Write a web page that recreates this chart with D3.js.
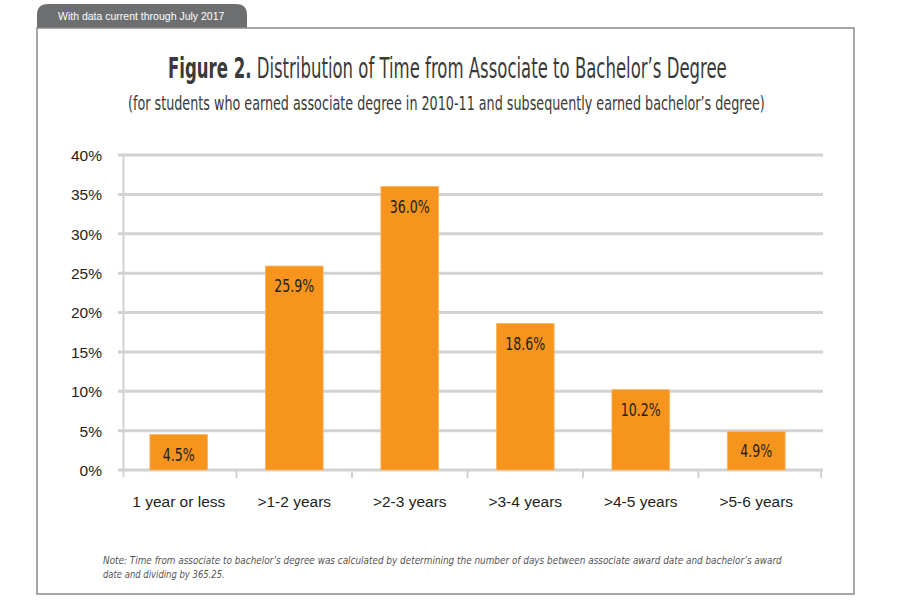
<!DOCTYPE html>
<html>
<head>
<meta charset="utf-8">
<script src="https://cdn.jsdelivr.net/npm/d3@7"></script>
<style>
  body { margin: 0; background: #fff; }
  svg { display: block; }
</style>
</head>
<body>
<svg id="chart" width="900" height="600"></svg>
<script>
const categorias = ["1 year or less", ">1-2 years", ">2-3 years", ">3-4 years", ">4-5 years", ">5-6 years"];
const porcentajes = [4.5, 25.9, 36.0, 18.6, 10.2, 4.9];
const ticksY = [0, 5, 10, 15, 20, 25, 30, 35, 40];

const narrow = "'DejaVu Sans Condensed', 'Liberation Sans Narrow', sans-serif";
const sans = "'Liberation Sans', Arial, sans-serif";

const svg = d3.select("#chart");

// estira o encoge un texto en horizontal hasta el ancho pedido
function ajustarAncho(sel, x0, y0, ancho, anchor) {
  sel.attr("x", 0).attr("y", 0);
  const w = sel.node().getComputedTextLength();
  const sx = ancho / w;
  const dx = anchor === "middle" ? x0 - ancho / 2 : x0;
  sel.attr("transform", `translate(${dx},${y0}) scale(${sx},1)`);
}

// marco y pestaña
svg.append("path")
  .attr("d", "M37,28 V15 Q37,4 48,4 H236 Q247,4 247,15 V28 Z")
  .attr("fill", "#6d6e70");
svg.append("text")
  .attr("x", 58).attr("y", 20)
  .attr("font-family", sans).attr("font-size", 10.5)
  .attr("fill", "#fff")
  .text("With data current through July 2017");
svg.append("rect")
  .attr("x", 37).attr("y", 28)
  .attr("width", 817).attr("height", 566)
  .attr("fill", "none")
  .attr("stroke", "#8a8a8a")
  .attr("stroke-width", 1.5);

// titulos
const titulo = svg.append("text")
  .attr("font-family", narrow).attr("font-size", 29)
  .attr("fill", "#3a3a3a");
titulo.append("tspan").attr("font-weight", "bold").text("Figure 2.");
titulo.append("tspan").attr("font-weight", "normal").text(" Distribution of Time from Associate to Bachelor\u2019s Degree");
ajustarAncho(titulo, 168, 78, 559);

const subtitulo = svg.append("text")
  .attr("font-family", narrow).attr("font-size", 20)
  .attr("fill", "#3a3a3a")
  .text("(for students who earned associate degree in 2010-11  and subsequently earned bachelor\u2019s degree)");
ajustarAncho(subtitulo, 128, 110, 637);

// escalas
const x = d3.scaleBand().domain(categorias).range([121, 814]).paddingInner(0.5).paddingOuter(0.25);
const y = d3.scaleLinear().domain([0, 40]).range([470, 155]);

// grilla
svg.append("g")
  .selectAll("line")
  .data(ticksY)
  .enter()
  .append("line")
  .attr("x1", 118).attr("x2", 823)
  .attr("y1", d => y(d)).attr("y2", d => y(d))
  .attr("stroke", "#d1d2d4")
  .attr("stroke-width", 3);

// eje y
const ejeY = svg.append("g")
  .attr("transform", "translate(102,0)")
  .call(d3.axisLeft(y).tickValues(ticksY).tickSize(0).tickFormat(d => d + "%"));
ejeY.select(".domain").remove();
ejeY.selectAll("text")
  .attr("font-family", sans).attr("font-size", 15.5)
  .attr("fill", "#231f20").attr("dy", "0.35em").attr("x", 0);

svg.append("line")
  .attr("x1", 123.5).attr("x2", 123.5)
  .attr("y1", 155).attr("y2", 477)
  .attr("stroke", "#d1d2d4").attr("stroke-width", 2);

// ticks entre categorias
const bordes = categorias.map(c => x(c) - x.step() * 0.25).concat([x(categorias[5]) + x.step() * 0.75 + 7]);
svg.append("g")
  .selectAll("line")
  .data(bordes.slice(1))
  .enter()
  .append("line")
  .attr("x1", d => d).attr("x2", d => d)
  .attr("y1", 470).attr("y2", 478)
  .attr("stroke", "#d1d2d4").attr("stroke-width", 2);

// eje x
const ejeX = svg.append("g")
  .attr("transform", "translate(0,470)")
  .call(d3.axisBottom(x).tickSize(0).tickPadding(0));
ejeX.select(".domain").remove();
ejeX.selectAll("text")
  .attr("font-family", sans).attr("font-size", 15.5)
  .attr("fill", "#231f20").attr("dy", 0).attr("y", 37);

// barras
const datos = categorias.map((c, i) => ({cat: c, val: porcentajes[i]}));
svg.append("g")
  .selectAll("rect")
  .data(datos)
  .enter()
  .append("rect")
  .attr("x", d => x(d.cat))
  .attr("y", d => y(d.val))
  .attr("width", x.bandwidth())
  .attr("height", d => y(0) - y(d.val))
  .attr("fill", "#f7941d")
  .attr("stroke", "#fbb665")
  .attr("stroke-width", 0.8);

svg.append("g")
  .selectAll("text")
  .data(datos)
  .enter()
  .append("text")
  .attr("font-family", narrow).attr("font-size", 18)
  .attr("fill", "#231f20")
  .text(d => d.val.toFixed(1) + "%")
  .each(function(d) {
    const ancho = d.val >= 10 ? 40 : 32;
    ajustarAncho(d3.select(this), x(d.cat) + x.bandwidth() / 2, y(d.val) + 26, ancho, "middle");
  });

// nota
const nota1 = svg.append("text")
  .attr("font-family", narrow).attr("font-size", 11)
  .attr("font-style", "italic").attr("fill", "#555")
  .text("Note: Time from associate to  bachelor\u2019s degree was calculated by determining the number of days between associate award date and bachelor\u2019s award");
ajustarAncho(nota1, 103, 564, 680);
const nota2 = svg.append("text")
  .attr("font-family", narrow).attr("font-size", 11)
  .attr("font-style", "italic").attr("fill", "#555")
  .text("date and dividing by 365.25.");
ajustarAncho(nota2, 103, 578, 122);
</script>
</body>
</html>
